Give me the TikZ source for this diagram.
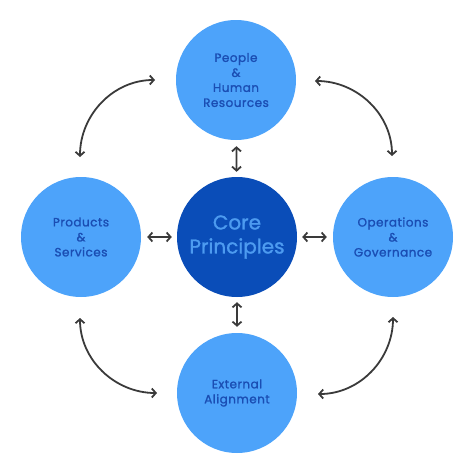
\documentclass[tikz,border=0pt]{standalone}
\usepackage{fontspec}
\setmainfont{Poppins}
\newfontfamily\medfont{Poppins}[FakeBold=1.3]
\newfontfamily\widefont{Poppins}[FakeBold=1.3,LetterSpace=4]
\usetikzlibrary{arrows.meta}
\definecolor{lightblue}{HTML}{4DA3FA}
\definecolor{darkblue}{HTML}{0A4DB8}
\definecolor{textblue}{HTML}{1A4DB3}
\definecolor{coretext}{HTML}{4D9BF0}
\definecolor{arrowgray}{HTML}{3A3A3A}
\begin{document}
\begin{tikzpicture}[x=1pt, y=-1pt, main node/.style={circle,fill=lightblue,text=textblue,minimum size=120pt,inner sep=0pt,align=center,font=\widefont\fontsize{12}{15}\selectfont},
core node/.style={main node,fill=darkblue,text=coretext,font=\medfont\fontsize{20}{24}\selectfont},
arr/.style={draw=arrowgray,line width=1.8pt,{Straight Barb[length=4pt,width=9pt]}-{Straight Barb[length=4pt,width=9pt]}}]%
\useasboundingbox (0,0) rectangle (474,474);
\begin{scope}
\node[core node] (cp) at (237,237) {Core\\Principles};
\node[main node] (phr) at (236,80) {People\\\&\\Human\\Resources};
\node[main node] (ps) at (81,237) {Products\\\&\\Services};
\node[main node] (og) at (393,237) {Operations\\\&\\Governance};
\node[main node] (ea) at (237,393) {External\\Alignment};
\end{scope}
\begin{scope}
\coordinate (tl1) at (80,157);
\coordinate (tl2) at (155,80);
\coordinate (tr1) at (315,81);
\coordinate (tr2) at (392,156);
\coordinate (bl1) at (80,318);
\coordinate (bl2) at (157,393);
\coordinate (br1) at (393,317);
\coordinate (br2) at (318,394);
\draw[arr] (tl1) to[out=90,in=180] (tl2);
\draw[arr] (tr1) to[out=0,in=90] (tr2);
\draw[arr] (bl1) to[out=-90,in=180] (bl2);
\draw[arr] (br1) to[out=-90,in=0] (br2);
\draw[arr,shorten <=6pt,shorten >=5pt] (phr) -- (cp);
\draw[arr,shorten <=6pt,shorten >=5pt] (ea) -- (cp);
\draw[arr,shorten <=6pt,shorten >=5pt] (ps) -- (cp);
\draw[arr,shorten <=6pt,shorten >=5pt] (og) -- (cp);
\end{scope}
\end{tikzpicture}
\end{document}
